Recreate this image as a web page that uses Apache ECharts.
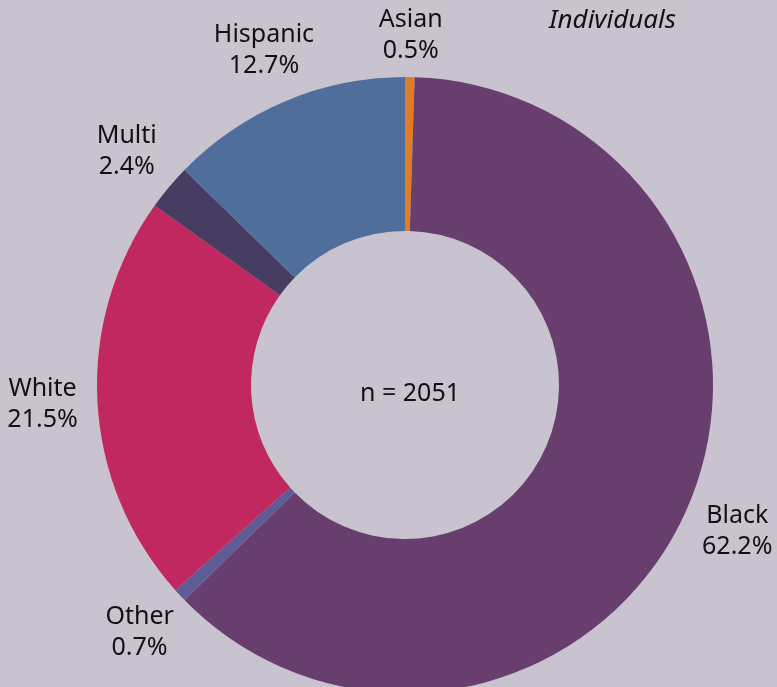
<!DOCTYPE html>
<html><head><meta charset="utf-8">
<script src="https://cdn.jsdelivr.net/npm/echarts@6/dist/echarts.min.js"></script>
<style>html,body{margin:0;padding:0;background:#c9c3cf;}#c{width:777px;height:687px;}</style>
</head><body><div id="c"></div>
<script>
const categories = ['Asian', 'Black', 'Other', 'White', 'Multi', 'Hispanic'];
const values = [0.5, 62.2, 0.7, 21.5, 2.4, 12.7];
const colors = ['#e07b27', '#673e6e', '#5f5b94', '#c1285f', '#473d62', '#4f6e9b'];
const centerText = 'n = 2051';
const titleText = 'Individuals';

const data = categories.map((c, i) => ({ name: c, value: values[i], itemStyle: { color: colors[i] } }));
const font = '"Noto Sans", sans-serif';
const chart = echarts.init(document.getElementById('c'));
chart.setOption({
  backgroundColor: '#c9c3cf',
  animation: false,
  title: [
    { text: titleText, right: 96, top: 3, textStyle: { fontFamily: font, fontStyle: 'italic', fontWeight: 'normal', fontSize: 26, color: '#111' } },
    { text: centerText, left: 405, top: 389, textAlign: 'center', textVerticalAlign: 'middle', textStyle: { fontFamily: font, fontWeight: 'normal', fontSize: 25, color: '#111' } }
  ],
  series: [
    {
      type: 'pie', center: [405, 385], radius: [154, 308], startAngle: 90, clockwise: true,
      label: { show: false }, labelLine: { show: false }, itemStyle: { borderWidth: 0 },
      data: data
    },
    {
      type: 'pie', center: [405, 385], radius: [340, 380], startAngle: 90, clockwise: true, silent: true,
      itemStyle: { color: 'rgba(0,0,0,0)' },
      label: { show: true, position: 'inside', formatter: p => p.name + '\n' + p.value.toFixed(1) + '%', fontFamily: font, fontSize: 25, lineHeight: 31, color: '#111' },
      labelLine: { show: false },
      data: data.map((d, i) => ({ name: d.name, value: d.value, label: i === 0 ? { offset: [0, 13] } : undefined }))
    }
  ]
});
</script></body></html>
